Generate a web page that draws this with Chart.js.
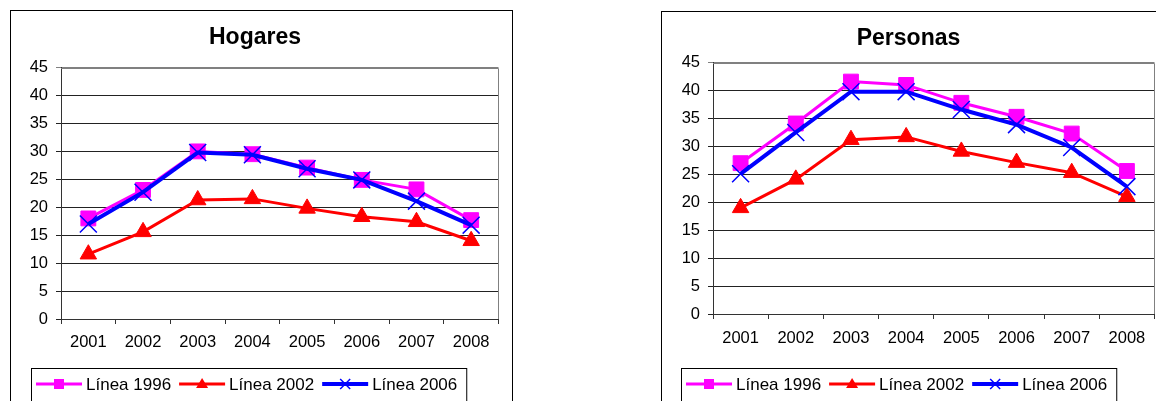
<!DOCTYPE html>
<html lang="es">
<head>
<meta charset="utf-8">
<title>Hogares y Personas</title>
<script src="https://cdn.jsdelivr.net/npm/chart.js@4.4.0/dist/chart.umd.min.js"></script>
<style>
	body { margin: 0; width: 1156px; height: 401px; overflow: hidden; background: #fff; position: relative; }
	.marco { position: absolute; border: 1px solid #000; box-sizing: border-box; background: #fff; }
	#marcoHogares { left: 10px; top: 10px; width: 503px; height: 400px; }
	#marcoPersonas { left: 661px; top: 11px; width: 508px; height: 400px; }
</style>
</head>
<body>
<div class="marco" id="marcoHogares"><canvas id="graficoHogares"></canvas></div>
<div class="marco" id="marcoPersonas"><canvas id="graficoPersonas"></canvas></div>
<script>
// datos
const anios = ["2001", "2002", "2003", "2004", "2005", "2006", "2007", "2008"];
const nombresSeries = ["Línea 1996", "Línea 2002", "Línea 2006"];

const hogares1996 = [18, 23.1, 30, 29.5, 27.1, 24.9, 23.2, 17.7];
const hogares2002 = [11.6, 15.6, 21.3, 21.5, 19.8, 18.3, 17.4, 14];
const hogares2006 = [17, 22.7, 29.8, 29.4, 26.9, 24.9, 21.1, 16.8];

const personas1996 = [27, 34.1, 41.6, 41, 37.8, 35.3, 32.3, 25.6];
const personas2002 = [19, 24.1, 31.2, 31.7, 29.1, 27.1, 25.3, 21];
const personas2006 = [25.1, 32.5, 39.8, 39.8, 36.6, 33.9, 29.8, 22.8];

const ejeYMax = 45;
const ejeYPaso = 5;

const fuente = "'Liberation Sans', Arial, sans-serif";

// marcadores de la leyenda
function dibujarMarca(ctx, estilo, x, y, color) {
	ctx.fillStyle = color;
	ctx.strokeStyle = color;
	ctx.beginPath();
	if (estilo === "rect") {
		ctx.fillRect(x - 5, y - 5, 10, 10);
	} else if (estilo === "triangle") {
		ctx.moveTo(x, y - 6);
		ctx.lineTo(x + 6, y + 4);
		ctx.lineTo(x - 6, y + 4);
		ctx.closePath();
		ctx.fill();
	} else {
		ctx.lineWidth = 1.5;
		ctx.moveTo(x - 5, y - 5);
		ctx.lineTo(x + 5, y + 5);
		ctx.moveTo(x + 5, y - 5);
		ctx.lineTo(x - 5, y + 5);
		ctx.stroke();
	}
}

const leyendaCaja = {
	id: "leyendaCaja",
	afterDraw(chart, args, opts) {
		const ctx = chart.ctx;
		ctx.save();
		ctx.font = "17px " + fuente;
		ctx.textBaseline = "middle";
		let x = opts.x + 5;
		const y = opts.y;
		chart.data.datasets.forEach(ds => {
			ctx.strokeStyle = ds.borderColor;
			ctx.lineWidth = ds.borderWidth;
			ctx.beginPath();
			ctx.moveTo(x, y);
			ctx.lineTo(x + 46, y);
			ctx.stroke();
			dibujarMarca(ctx, ds.pointStyle, x + 23, y, ds.borderColor);
			ctx.fillStyle = "#000";
			ctx.fillText(ds.label, x + 50, y + 1);
			x += 50 + ctx.measureText(ds.label).width + 8;
		});
		ctx.strokeStyle = "#000";
		ctx.lineWidth = 1;
		ctx.strokeRect(opts.x + 0.5, y - 16 + 0.5, x + 1 - opts.x, 100);
		ctx.restore();
	}
};

const bordeGrafico = {
	id: "bordeGrafico",
	beforeDatasetsDraw(chart) {
		const ctx = chart.ctx;
		const a = chart.chartArea;
		ctx.save();
		ctx.strokeStyle = "#808080";
		ctx.lineWidth = 1;
		ctx.beginPath();
		ctx.moveTo(a.left, Math.round(a.top) + 0.5);
		ctx.lineTo(Math.round(a.right) - 0.5, Math.round(a.top) + 0.5);
		ctx.lineTo(Math.round(a.right) - 0.5, a.bottom);
		ctx.stroke();
		ctx.restore();
	}
};

function crearGrafico(idCanvas, titulo, v1996, v2002, v2006, aj) {
	new Chart(document.getElementById(idCanvas), {
		type: "line",
		data: {
			labels: anios,
			datasets: [
				{
					label: nombresSeries[0],
					data: v1996,
					borderColor: "#ff00ff",
					backgroundColor: "#ff00ff",
					borderWidth: 3,
					pointStyle: "rect",
					pointRadius: 10.5,
					pointBorderWidth: 1,
					order: 3
				},
				{
					label: nombresSeries[1],
					data: v2002,
					borderColor: "#ff0000",
					backgroundColor: "#ff0000",
					borderWidth: 3,
					pointStyle: "triangle",
					pointRadius: 9.5,
					pointBorderWidth: 1,
					order: 2
				},
				{
					label: nombresSeries[2],
					data: v2006,
					borderColor: "#0000ff",
					backgroundColor: "#0000ff",
					borderWidth: 4,
					pointStyle: "crossRot",
					pointRadius: 12,
					pointBorderWidth: 1.5,
					order: 1
				}
			]
		},
		options: {
			responsive: true,
			maintainAspectRatio: false,
			animation: false,
			layout: {
				padding: { left: 0, right: 13, top: 0, bottom: aj.abajo }
			},
			plugins: {
				legend: { display: false },
				tooltip: { enabled: false },
				title: {
					display: true,
					text: titulo,
					color: "#000",
					font: { family: fuente, size: 23, weight: "bold" },
					padding: { top: 13, bottom: aj.tituloAbajo }
				},
				leyendaCaja: { x: aj.leyX, y: aj.leyY }
			},
			scales: {
				x: {
					offset: true,
					afterFit(scale) { scale.height = 40; },
					grid: {
						offset: true,
						drawOnChartArea: false,
						drawTicks: true,
						tickLength: 5,
						color: "#333"
					},
					border: { color: "#333", width: 1 },
					ticks: {
						color: "#000",
						padding: aj.padX,
						font: { family: fuente, size: 16.5 },
						maxRotation: 0
					}
				},
				y: {
					min: 0,
					max: ejeYMax,
					afterFit(scale) { scale.width = aj.anchoY; },
					grid: {
						tickLength: 5,
						color: ctx => ctx.tick && ctx.tick.value === ejeYMax ? "#808080" : "#222"
					},
					border: { color: "#333", width: 1 },
					ticks: {
						stepSize: ejeYPaso,
						color: "#000",
						padding: 8,
						font: { family: fuente, size: 16.5 }
					}
				}
			}
		},
		plugins: [bordeGrafico, leyendaCaja]
	});
}

crearGrafico("graficoHogares", "Hogares", hogares1996, hogares2002, hogares2006, {
	abajo: 50, tituloAbajo: 16, padX: 9, anchoY: 50, leyX: 20, leyY: 373
});
crearGrafico("graficoPersonas", "Personas", personas1996, personas2002, personas2006, {
	abajo: 56, tituloAbajo: 10, padX: 10, anchoY: 51, leyX: 19, leyY: 372
});
</script>
</body>
</html>
